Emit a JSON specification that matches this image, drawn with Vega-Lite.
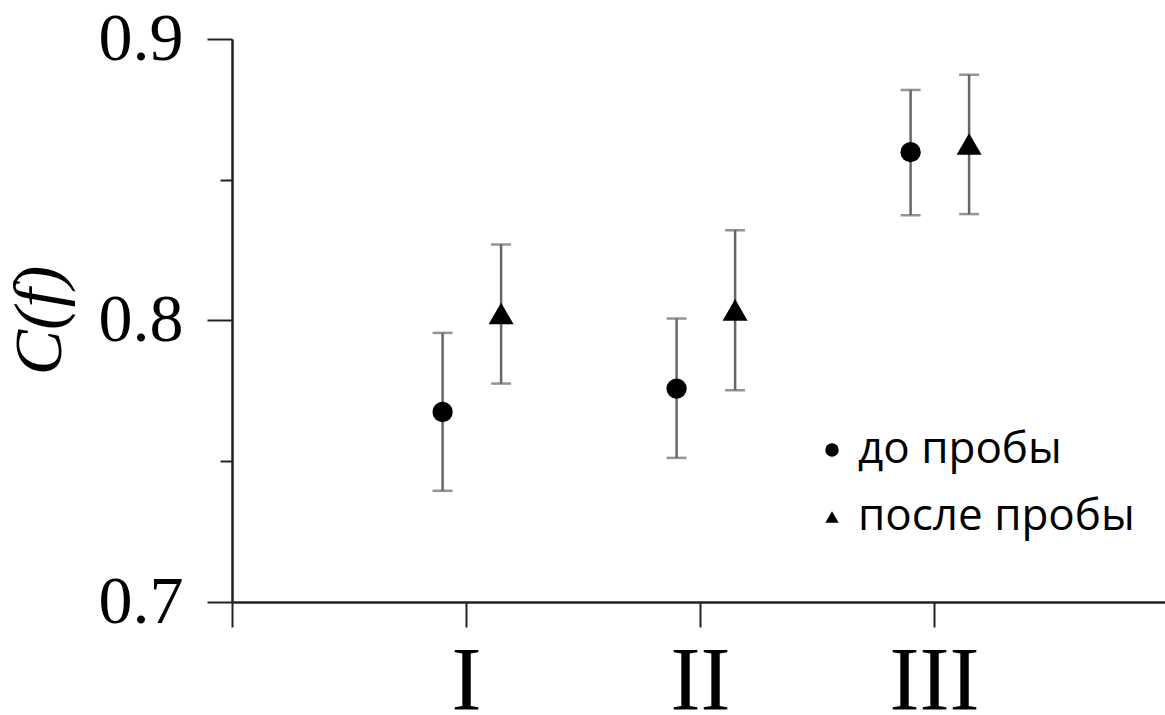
{
  "$schema": "https://vega.github.io/schema/vega-lite/v6.json",
  "width": 936,
  "height": 563,
  "autosize": {"type": "none"},
  "padding": {"left": 232, "top": 39, "right": 0, "bottom": 113},
  "background": "white",
  "config": {"view": {"stroke": null}, "axis": {"grid": false}},
  "data": {
    "values": [
      {"group": "до пробы", "x": 0.9, "y": 0.7675, "lo": 0.7395, "hi": 0.7956},
      {"group": "после пробы", "x": 1.15, "y": 0.8025, "lo": 0.7776, "hi": 0.827},
      {"group": "до пробы", "x": 1.9, "y": 0.7758, "lo": 0.7512, "hi": 0.8007},
      {"group": "после пробы", "x": 2.15, "y": 0.8038, "lo": 0.7752, "hi": 0.8321},
      {"group": "до пробы", "x": 2.9, "y": 0.8598, "lo": 0.8374, "hi": 0.8819},
      {"group": "после пробы", "x": 3.15, "y": 0.8627, "lo": 0.8378, "hi": 0.8873}
    ]
  },
  "encoding": {
    "x": {
      "field": "x",
      "type": "quantitative",
      "scale": {"domain": [0, 4], "nice": false, "zero": false},
      "axis": {
        "title": null,
        "values": [0, 1, 2, 3],
        "labelExpr": "datum.value == 1 ? 'I' : datum.value == 2 ? 'II' : datum.value == 3 ? 'III' : ''",
        "labelFont": "Liberation Serif",
        "labelFontSize": 90,
        "labelColor": "black",
        "labelPadding": 11,
        "tickSize": 25,
        "tickWidth": 2,
        "tickColor": "#222",
        "domainColor": "#222",
        "domainWidth": 2.5,
        "labelFlush": false,
        "labelOverlap": false
      }
    }
  },
  "layer": [
    {
      "mark": {"type": "rule", "color": "#666", "strokeWidth": 2.5},
      "encoding": {
        "y": {
          "field": "lo",
          "type": "quantitative",
          "scale": {"domain": [0.7, 0.9], "nice": false, "zero": false},
          "axis": {
            "values": [0.7, 0.75, 0.8, 0.85, 0.9],
            "format": ".1f",
            "labelExpr": "(datum.value == 0.75 || datum.value == 0.85) ? '' : datum.label",
            "labelFont": "Liberation Serif",
            "labelFontSize": 68,
            "labelColor": "black",
            "labelPadding": 24,
            "labelFlush": false,
            "labelOverlap": false,
            "tickSize": {"condition": {"test": "datum.value == 0.75 || datum.value == 0.85", "value": 12}, "value": 25},
            "tickWidth": 2,
            "tickColor": "#222",
            "domainColor": "#222",
            "domainWidth": 2.5,
            "title": "C(f)",
            "titleFont": "Liberation Serif",
            "titleFontStyle": "italic",
            "titleFontWeight": "normal",
            "titleFontSize": 68,
            "titleColor": "black",
            "titleAngle": -90,
            "titleX": -172,
            "titleY": 281,
            "titleAlign": "center",
            "titleBaseline": "alphabetic"
          }
        },
        "y2": {"field": "hi"}
      }
    },
    {
      "mark": {"type": "tick", "orient": "horizontal", "color": "#666", "thickness": 2.5, "size": 20},
      "encoding": {"y": {"field": "lo", "type": "quantitative"}}
    },
    {
      "mark": {"type": "tick", "orient": "horizontal", "color": "#666", "thickness": 2.5, "size": 20},
      "encoding": {"y": {"field": "hi", "type": "quantitative"}}
    },
    {
      "transform": [{"filter": "datum.group == 'до пробы'"}],
      "mark": {"type": "point", "filled": true, "opacity": 1, "color": "black", "strokeWidth": 0, "size": 415},
      "encoding": {
        "y": {"field": "y", "type": "quantitative"},
        "shape": {
          "field": "group",
          "type": "nominal",
          "scale": {"domain": ["до пробы", "после пробы"], "range": ["circle", "triangle-up"]},
          "legend": {
            "title": null,
            "orient": "none",
            "legendX": 578,
            "legendY": 389,
            "padding": 0,
            "labelFont": "Open Sans",
            "labelFontSize": 44,
            "labelColor": "black",
            "labelOffset": 4,
            "labelLimit": 500,
            "symbolSize": 180,
            "symbolFillColor": "black",
            "symbolStrokeColor": "black",
            "symbolStrokeWidth": 0,
            "rowPadding": 23
          }
        }
      }
    },
    {
      "transform": [{"filter": "datum.group == 'после пробы'"}],
      "mark": {"type": "point", "filled": true, "opacity": 1, "color": "black", "strokeWidth": 0, "size": 625},
      "encoding": {
        "y": {"field": "y", "type": "quantitative"},
        "shape": {"field": "group", "type": "nominal"}
      }
    }
  ]
}
